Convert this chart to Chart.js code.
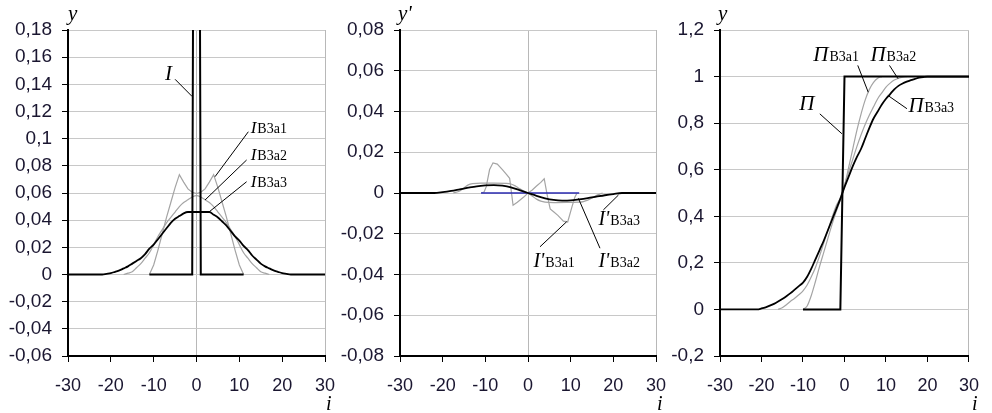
<!DOCTYPE html>
<html>
<head>
<meta charset="utf-8">
<script src="https://cdn.jsdelivr.net/npm/chart.js"></script>
<style>
  html, body { margin: 0; padding: 0; background: #fff; }
  #wrap { position: relative; width: 992px; height: 413px; overflow: hidden; }
  #wrap canvas { position: absolute; left: 0; top: 0; }
</style>
</head>
<body>
<div id="wrap">
  <canvas id="c1" width="992" height="413"></canvas>
  <canvas id="c2" width="992" height="413"></canvas>
  <canvas id="c3" width="992" height="413"></canvas>
</div>
<script>
// indices i (integer sampling grid)
function range(a, b) { const r = []; for (let k = a; k <= b; k++) r.push(k); return r; }

// ---- panel 1: impulse I and smoothed versions
const xI = [-11, -1, 0, 1, 11];
const yI = [0, 0, 1, 0, 0];
const xIb1 = range(-11, 11);
const yIb1 = [0, 0.007, 0.018, 0.030, 0.042, 0.053, 0.064, 0.0735, 0.068, 0.063, 0.0605, 0.0595,
              0.0605, 0.063, 0.068, 0.0735, 0.064, 0.053, 0.042, 0.030, 0.018, 0.007, 0];
const xIb2 = range(-17, 17);
const yIb2 = [0, 0.001, 0.002, 0.005, 0.008, 0.012, 0.016, 0.022, 0.028, 0.033, 0.038, 0.042, 0.046, 0.050, 0.053, 0.055, 0.057,
              0.058,
              0.057, 0.055, 0.053, 0.050, 0.046, 0.042, 0.038, 0.033, 0.028, 0.022, 0.016, 0.012, 0.008, 0.005, 0.002, 0.001, 0];
const xIb3 = [-30].concat(range(-22, 22), [30]);
const yIb3 = [0,
              0, 0.0005, 0.001, 0.002, 0.003, 0.0045, 0.006, 0.008, 0.010, 0.012, 0.015, 0.019, 0.022, 0.026, 0.030, 0.034, 0.038, 0.041, 0.043, 0.045, 0.046, 0.046,
              0.046,
              0.046, 0.046, 0.046, 0.044, 0.042, 0.039, 0.036, 0.032, 0.028, 0.025, 0.021, 0.018, 0.014, 0.011, 0.008, 0.006, 0.0045, 0.003, 0.002, 0.001, 0.0005, 0,
              0];

// ---- panel 2: derivatives
const xDb1 = [-11, -10.3, -9.8, -9, -8.2, -7.2, -6, -5, -4.3, -3.5, -2.5, -1, 0, 1, 2, 3, 3.8, 4.5, 5.2, 6, 7, 8.3, 9.3, 10.3, 11, 11.5];
const yDb1 = [0, 0.0005, 0.003, 0.0115, 0.0148, 0.0142, 0.0115, 0.009, 0.0072, -0.006, -0.0045, -0.002, 0,
              0.0015, 0.0034, 0.0052, 0.007, -0.001, -0.0078, -0.0092, -0.011, -0.0138, -0.0142, -0.0068, -0.002, 0];
const xDb2 = [-17.5, -16, -15, -14, -13, -11, -8, -5, -4, -3, -2, -1, 0, 1, 2, 3, 4, 6, 10, 12, 13, 14, 15, 16, 17, 17.5];
const yDb2 = [0, 0.001, 0.0025, 0.004, 0.0046, 0.0048, 0.0048, 0.0047, 0.0044, 0.0035, 0.0022, 0.001, 0,
              -0.0015, -0.003, -0.004, -0.0045, -0.0047, -0.0046, -0.0045, -0.0042, -0.0035, -0.0025, -0.0013, -0.0004, 0];
const xDb3 = [-30, -22, -20, -18, -16, -14, -12, -10, -8, -6, -4, -2, 0, 2, 4, 6, 8, 10, 12, 14, 16, 18, 20, 22, 30];
const yDb3 = [0, 0, 0.0004, 0.001, 0.0018, 0.0026, 0.0033, 0.0037, 0.0039, 0.0036, 0.0028, 0.0014, 0,
              -0.0014, -0.0026, -0.0034, -0.0037, -0.0036, -0.0031, -0.0025, -0.0018, -0.0011, -0.0005, 0, 0];
const xD = [-11, 12];
const yD = [0, 0];

// ---- panel 3: step П and smoothed versions
const xP = [-10, -1, 0, 30];
const yP = [0, 0, 1, 1];
const xPb1 = range(-10, 9);
const yPb1 = [0, 0.015, 0.06, 0.12, 0.185, 0.245, 0.305, 0.365, 0.42, 0.47,
              0.53, 0.61, 0.69, 0.77, 0.84, 0.90, 0.945, 0.975, 0.993, 1];
const xPb2 = range(-16, 15);
const yPb2 = [0, 0.007, 0.02, 0.035, 0.048, 0.063, 0.08, 0.105, 0.14, 0.18, 0.23, 0.285, 0.34, 0.395, 0.445, 0.48,
              0.535, 0.59, 0.645, 0.70, 0.75, 0.795, 0.835, 0.87, 0.905, 0.93, 0.955, 0.972, 0.985, 0.993, 0.998, 1];
const xPb3 = [-30].concat(range(-21, 20), [30]);
const yPb3 = [0,
              0, 0.004, 0.009, 0.016, 0.024, 0.034, 0.045, 0.057, 0.07, 0.085, 0.10, 0.115, 0.14, 0.175, 0.215, 0.255, 0.295, 0.34, 0.385, 0.43, 0.475,
              0.525, 0.57, 0.615, 0.655, 0.69, 0.735, 0.78, 0.82, 0.85, 0.88, 0.905, 0.925, 0.945, 0.96, 0.97, 0.978, 0.985, 0.99, 0.995, 0.998, 1,
              1];

const xTicks = [-30, -20, -10, 0, 10, 20, 30];

const BLACK = '#000000';
const GRAY = '#a4a4a4';
const GRID = '#c8c8c8';
const TXT = '#1a1630';
const SANS = '"Liberation Sans", Arial, sans-serif';
const SERIF = '"Liberation Serif", "Times New Roman", serif';

function line(xs, ys, color, width, smooth) {
  return {
    data: xs.map((x, k) => ({ x: x, y: ys[k] })),
    showLine: true,
    borderColor: color,
    backgroundColor: color,
    borderWidth: width,
    pointRadius: 0,
    fill: false,
    tension: 0,
    cubicInterpolationMode: smooth ? 'monotone' : 'default'
  };
}

function fmt(v) {
  const r = Math.round(v * 1000) / 1000;
  return String(r).replace('.', ',');
}

// leader lines + curve names, axis names
const notesPlugin = {
  id: 'notes',
  afterDraw(chart, args, opts) {
    const { ctx, chartArea } = chart;
    const xs = chart.scales.x, ys = chart.scales.y;
    ctx.save();
    ctx.strokeStyle = '#000';
    ctx.lineWidth = 1;
    ctx.fillStyle = '#000';
    ctx.textBaseline = 'alphabetic';
    ctx.textAlign = 'left';
    (opts.items || []).forEach(n => {
      ctx.beginPath();
      ctx.moveTo(xs.getPixelForValue(n.from[0]), ys.getPixelForValue(n.from[1]));
      ctx.lineTo(xs.getPixelForValue(n.to[0]), ys.getPixelForValue(n.to[1]));
      ctx.stroke();
      let px = xs.getPixelForValue(n.at[0]);
      const py = ys.getPixelForValue(n.at[1]);
      ctx.font = 'italic ' + n.size + 'px ' + SERIF;
      ctx.fillText(n.main, px, py);
      if (n.sub) {
        px += ctx.measureText(n.main).width + 1;
        ctx.font = n.subSize + 'px ' + SERIF;
        ctx.fillText(n.sub, px, py);
      }
    });
    ctx.font = 'italic 21px ' + SERIF;
    ctx.fillText(opts.yName, chartArea.left + opts.yDx, 20);
    ctx.font = 'italic 20px ' + SERIF;
    ctx.fillText('i', chartArea.right + opts.iDx, 410);
    ctx.restore();
  }
};

function makeChart(id, cfg) {
  return new Chart(document.getElementById(id), {
    type: 'scatter',
    data: { datasets: cfg.datasets },
    plugins: [notesPlugin],
    options: {
      responsive: false,
      animation: false,
      events: [],
      layout: { padding: { left: cfg.padLeft, right: cfg.padRight, top: 30, bottom: 0 } },
      plugins: {
        legend: { display: false },
        tooltip: { enabled: false },
        notes: { items: cfg.notes, yName: cfg.yName, yDx: cfg.yDx, iDx: cfg.iDx }
      },
      scales: {
        x: {
          type: 'linear',
          min: -30, max: 30,
          afterBuildTicks: s => { s.ticks = xTicks.map(v => ({ value: v })); },
          afterFit: s => { s.height = 57; },
          ticks: { color: TXT, font: { family: SANS, size: 18 }, padding: 13, maxRotation: 0 },
          grid: {
            color: c => (cfg.xGrid.indexOf(c.tick && c.tick.value) >= 0 ? '#b8b8b8' : 'rgba(0,0,0,0)'),
            tickColor: '#000',
            tickLength: 6,
            lineWidth: 1
          },
          border: { color: '#000', width: 2 }
        },
        y: {
          type: 'linear',
          min: cfg.yMin, max: cfg.yMax,
          afterFit: s => { s.width = cfg.yWidth; },
          ticks: { stepSize: cfg.yStep, color: TXT, font: { family: SANS, size: 19 }, padding: 10, callback: fmt },
          grid: { color: GRID, tickColor: '#000', tickLength: 6, lineWidth: 1 },
          border: { color: '#000', width: 2 }
        }
      }
    }
  });
}

makeChart('c1', {
  padLeft: 0, padRight: 667, yWidth: 68,
  yMin: -0.06, yMax: 0.18, yStep: 0.02,
  xGrid: [0, 30],
  yName: 'y', yDx: 0, iDx: 1,
  datasets: [
    line(xI, yI, BLACK, 2, false),
    line(xIb3, yIb3, BLACK, 1.8, true),
    line(xIb2, yIb2, GRAY, 1.2, true),
    line(xIb1, yIb1, GRAY, 1.2, false)
  ],
  notes: [
    { main: 'I', size: 21, at: [-7.35, 0.1432], from: [-5.0, 0.1437], to: [-1.0, 0.131] },
    { main: 'I', sub: 'B3a1', size: 17, subSize: 14, at: [12.65, 0.104], from: [12.1, 0.1051], to: [4.32, 0.072] },
    { main: 'I', sub: 'B3a2', size: 17, subSize: 14, at: [12.65, 0.0843], from: [11.7, 0.0843], to: [1.98, 0.0548] },
    { main: 'I', sub: 'B3a3', size: 17, subSize: 14, at: [12.65, 0.0646], from: [11.7, 0.0683], to: [2.99, 0.0462] }
  ]
});

makeChart('c2', {
  padLeft: 340, padRight: 336, yWidth: 60,
  yMin: -0.08, yMax: 0.08, yStep: 0.02,
  xGrid: [0, 30],
  yName: "y'", yDx: -2, iDx: 1,
  datasets: [
    line(xDb3, yDb3, BLACK, 1.8, true),
    line(xD, yD, '#2a2ab0', 1.6, false),
    line(xDb2, yDb2, GRAY, 1.2, true),
    line(xDb1, yDb1, GRAY, 1.2, false)
  ],
  notes: [
    { main: "I'", sub: 'B3a1', size: 20, subSize: 14, at: [1.26, -0.0363], from: [2.81, -0.0264], to: [9.06, -0.0141] },
    { main: "I'", sub: 'B3a2', size: 20, subSize: 14, at: [16.5, -0.0363], from: [16.87, -0.0271], to: [11.8, -0.0026] },
    { main: "I'", sub: 'B3a3', size: 20, subSize: 14, at: [16.5, -0.0157], from: [17.66, -0.0083], to: [21.2, -0.001] }
  ]
});

makeChart('c3', {
  padLeft: 668, padRight: 10, yWidth: 52,
  yMin: -0.2, yMax: 1.2, yStep: 0.2,
  xGrid: [30],
  yName: 'y', yDx: -2, iDx: 3,
  datasets: [
    line(xP, yP, BLACK, 2, false),
    line(xPb3, yPb3, BLACK, 1.8, true),
    line(xPb2, yPb2, GRAY, 1.2, true),
    line(xPb1, yPb1, GRAY, 1.2, true)
  ],
  notes: [
    { main: 'П', size: 21, at: [-10.9, 0.8546], from: [-5.95, 0.84], to: [-0.62, 0.7545] },
    { main: 'П', sub: 'B3a1', size: 21, subSize: 14, at: [-7.5, 1.069], from: [3.2, 1.048], to: [5.72, 0.933] },
    { main: 'П', sub: 'B3a2', size: 21, subSize: 14, at: [6.25, 1.069], from: [10.84, 1.048], to: [12.9, 0.991] },
    { main: 'П', sub: 'B3a3', size: 21, subSize: 14, at: [15.4, 0.846], from: [15.05, 0.862], to: [10.46, 0.919] }
  ]
});
</script>
</body>
</html>
